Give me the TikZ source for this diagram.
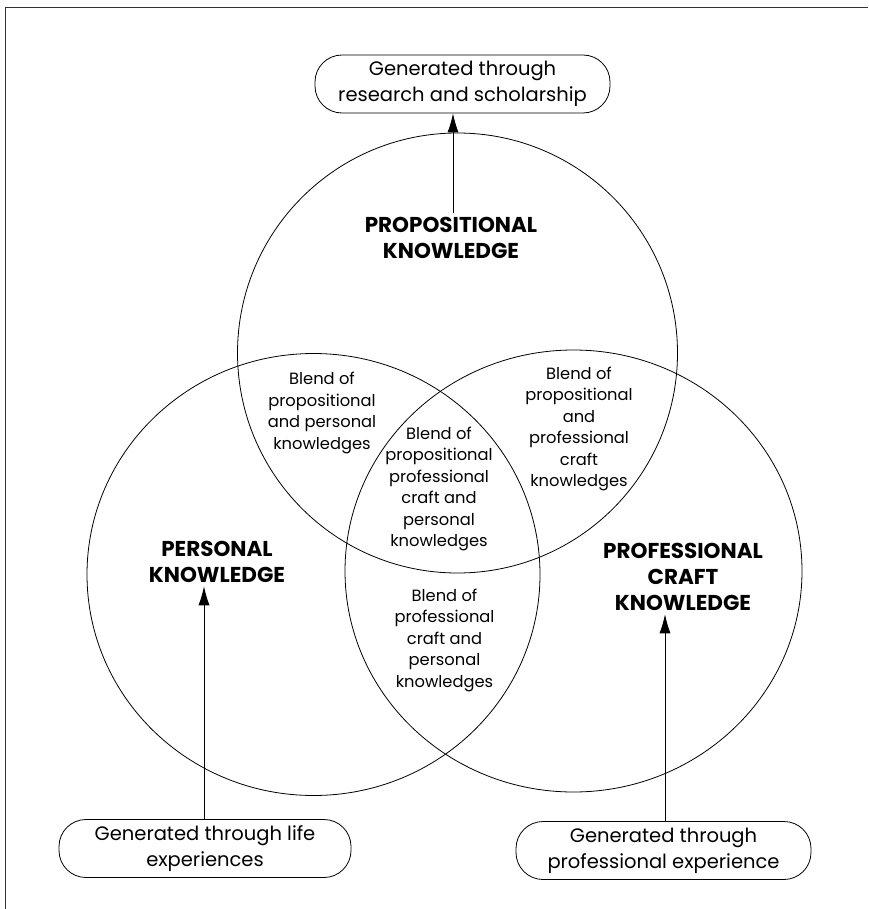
\documentclass[tikz,border=0pt]{standalone}
\usepackage{fontspec}
\setmainfont{Poppins}
\usetikzlibrary{arrows.meta,positioning,shapes.geometric}

\begin{document}
\begin{tikzpicture}[x=1pt,y=-1pt,>={Latex[length=19pt,width=11pt]},
    venn/.style={draw,ellipse,line width=0.8pt,inner sep=0pt},
    title/.style={align=center,font=\fontsize{21.5}{26}\selectfont\bfseries},
    blend/.style={align=center,font=\fontsize{16.3}{21.5}\selectfont},
    gen/.style={draw,rounded corners=27pt,line width=0.8pt,minimum width=295pt,
                minimum height=58pt,align=center,font=\fontsize{19.5}{26}\selectfont}]
    \useasboundingbox (0,0) rectangle (868,909);
    % frame
    \draw[black!80,line width=1.5pt] (5.5,909) -- (5.5,7.3) -- (868,7.3);
    % the three knowledges
    \node[venn,minimum width=440pt,minimum height=440pt] (prop) at (457.5,353) {};
    \node[venn,minimum width=453pt,minimum height=442pt] (pers) at (313.5,574.5) {};
    \node[venn,minimum width=457pt,minimum height=442pt] (craft) at (573.5,571) {};
    \node[title] (propT) at (451,238) {PROPOSITIONAL\\KNOWLEDGE};
    \node[title] (persT) at (217,562) {PERSONAL\\KNOWLEDGE};
    \node[title] (craftT) at (683,577) {PROFESSIONAL\\CRAFT\\KNOWLEDGE};
    % blends
    \node[blend] (b1) at (322,413) {Blend of\\propositional\\and personal\\knowledges};
    \node[blend] (b2) at (579,429) {Blend of\\propositional\\and\\professional\\craft\\knowledges};
    \node[blend] (b3) at (439,489) {Blend of\\propositional\\professional\\craft and\\personal\\knowledges};
    \node[blend] (b4) at (444.5,640) {Blend of\\professional\\craft and\\personal\\knowledges};
    % sources
    \node[gen] (research) at (462.5,84) {Generated through\\research and scholarship};
    \node[gen,minimum width=292pt] (life) at (205,848.5) {Generated through life\\experiences};
    \node[gen] (practice) at (663.5,850.5) {Generated through\\professional experience};
    \draw[->,line width=0.8pt] (propT.north -| 453,0) ++(0,-1) coordinate (p0) -- (p0 |- research.south);
    \draw[->,line width=0.8pt] (life.north -| 204,0) coordinate (l0) -- (l0 |- persT.south);
    \draw[->,line width=0.8pt] (practice.north -| 665,0) coordinate (r0) -- (r0 |- craftT.south);
\end{tikzpicture}
\end{document}
